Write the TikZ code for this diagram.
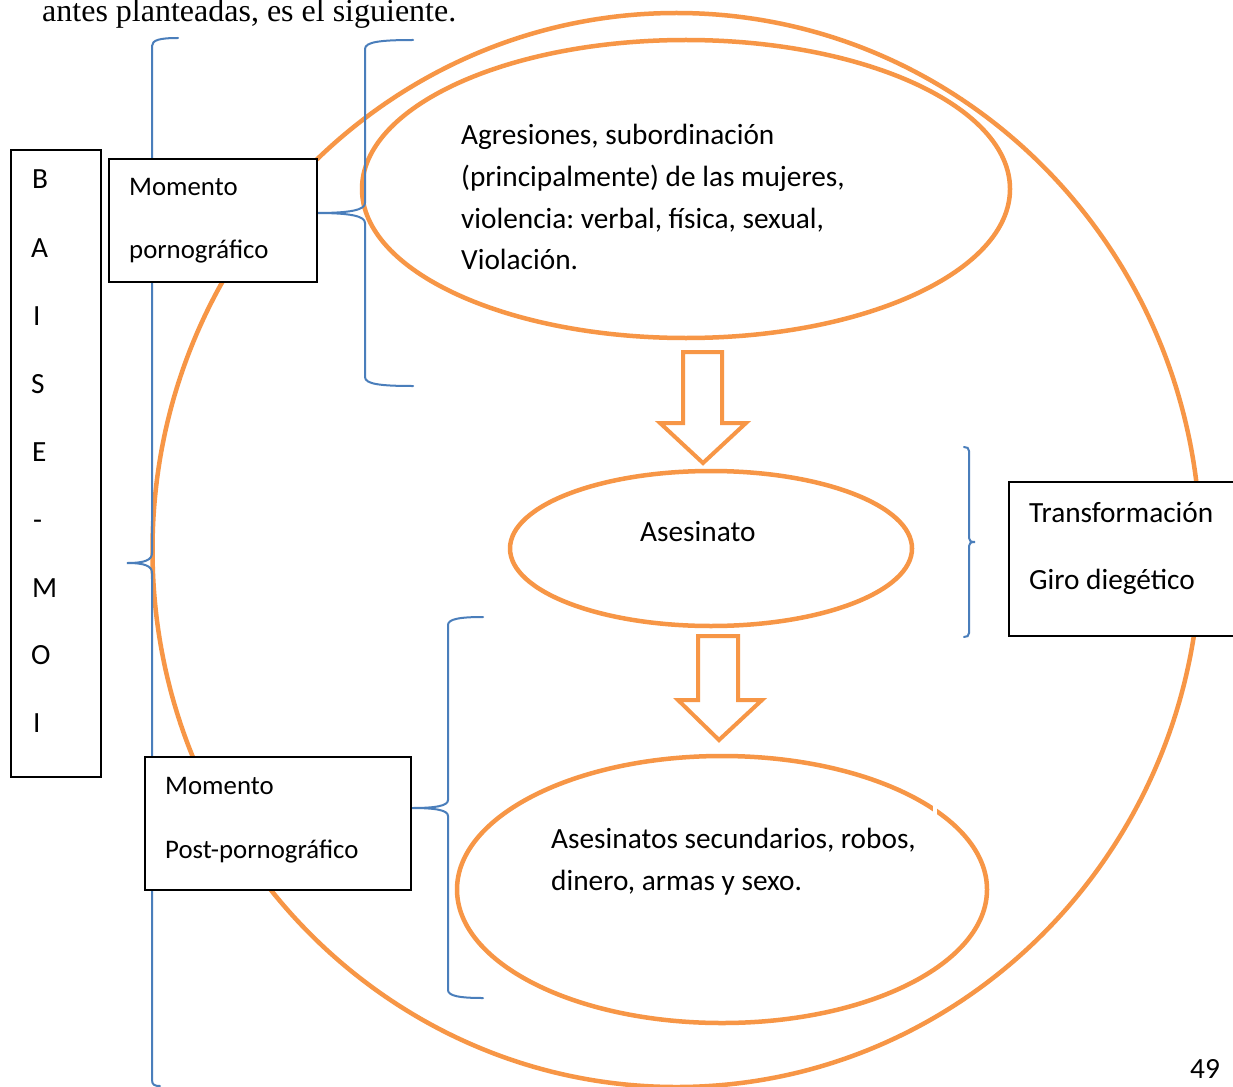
\documentclass[tikz,border=0pt]{standalone}
\usepackage{fontspec}
\newfontfamily\calibfam{Carlito}
\newfontfamily\timesfam{Liberation Serif}
\usetikzlibrary{shapes.geometric}
\definecolor{orng}{HTML}{F79646}
\definecolor{blu}{HTML}{4A7EBB}
\newcommand\mylblfont{\calibfam\fontsize{29.3}{35}\selectfont\frenchspacing}
\newcommand\mysmallfont{\calibfam\fontsize{26.8}{32}\selectfont\frenchspacing}
\tikzset{
  oval/.style={draw=orng, line width=4.5, ellipse, inner sep=0, fill=none},
  frame/.style={draw=black, fill=white, line width=1.3, inner sep=0},
  lbl/.style={font=\mylblfont, anchor=base west, inner sep=0},
  slbl/.style={font=\mysmallfont, anchor=base west, inner sep=0},
  bracepath/.style={draw=blu, line width=2, line cap=round},
  blockarrow/.style={draw=orng, line width=4, fill=white, line join=miter},
}
\begin{document}
\begin{tikzpicture}[x=1pt,y=-1pt]
\useasboundingbox (0,0) rectangle (1233,1086);
\clip (0,0) rectangle (1233,1086);
\fill[white] (0,0) rectangle (1233,1086);

% intro text
\node[anchor=base west, inner sep=0, font=\timesfam\fontsize{32}{38}\selectfont\frenchspacing] (intro) at (42,22) {antes planteadas, es el siguiente.};

% orange shapes
\node[oval, minimum width=1048, minimum height=1074] (big) at (676.5,550) {};
\node[oval, minimum width=648, minimum height=298] (top) at (686,189) {};
\node[oval, minimum width=402, minimum height=155] (mid) at (711,548.5) {};
\node[oval, minimum width=530, minimum height=267] (bot) at (722,889.5) {};
\fill[white] (933,802) rectangle (937,816);

% block arrows
\draw[blockarrow] (683,352) -- (722,352) -- (722,423) -- (746,423) -- (703,463) -- (660,423) -- (683,423) -- cycle;
\draw[blockarrow] (698,636) -- (738,636) -- (738,700) -- (762,700) -- (719,740) -- (678,700) -- (698,700) -- cycle;

% braces
\draw[bracepath] (178,38) .. controls (160,38) and (152,40) .. (152,46) -- (152,553)
  .. controls (152,560) and (145,563) .. (127,563)
  .. controls (145,563) and (152,566) .. (152,573) -- (152,1080)
  .. controls (152,1085) and (155,1086) .. (160,1086);
\draw[bracepath] (413,40) .. controls (380,40) and (365,42) .. (365,49) -- (365,203)
  .. controls (365,210) and (350,213) .. (317,213)
  .. controls (350,213) and (365,216) .. (365,223) -- (365,377)
  .. controls (365,384) and (380,386) .. (413,386);
\draw[bracepath] (483,617) .. controls (460,617) and (448,619) .. (448,625) -- (448,800)
  .. controls (448,806) and (435,808) .. (412,808)
  .. controls (435,808) and (448,810) .. (448,816) -- (448,990)
  .. controls (448,996) and (460,998) .. (483,998);
\draw[bracepath] (964,447) .. controls (967,447) and (969,448) .. (969,451) -- (969,538)
  .. controls (969,541) and (971,542) .. (975,542)
  .. controls (971,542) and (969,543) .. (969,546) -- (969,633)
  .. controls (969,636) and (967,637) .. (964,637);

% boxes
\node[frame, minimum width=90, minimum height=627] (baise) at (56,463.5) {};
\node[frame, minimum width=208, minimum height=123] (porno) at (213,220.5) {};
\node[frame, minimum width=266, minimum height=133] (post) at (278,823.5) {};
\node[frame, minimum width=236, minimum height=154] (transf) at (1127,559) {};

% texts
\node[lbl] (t1) at (461,145) {Agresiones, subordinación};
\node[lbl] (t2) at (461,186) {(principalmente) de las mujeres,};
\node[lbl] (t3) at (461,228) {violencia: verbal, física, sexual,};
\node[lbl] (t4) at (461,269) {Violación.};
\node[lbl] (t5) at (640,541) {Asesinato};
\node[lbl] (t6) at (551,848) {Asesinatos secundarios, robos,};
\node[lbl] (t7) at (551,890) {dinero, armas y sexo.};
\node[lbl] (t8) at (1029,522) {Transformación};
\node[lbl] (t9) at (1029,589) {Giro diegético};
\node[slbl] (t10) at (129,195) {Momento};
\node[slbl] (t11) at (129,258) {pornográfico};
\node[slbl] (t12) at (165,794) {Momento};
\node[slbl] (t13) at (165,858) {Post-pornográfico};
\node[lbl] (b1) at (32,189) {B};
\node[lbl] (b2) at (31,257) {A};
\node[lbl] (b3) at (33,325) {I};
\node[lbl] (b4) at (31,393) {S};
\node[lbl] (b5) at (32,461) {E};
\node[lbl] (b6) at (33,529) {-};
\node[lbl] (b7) at (32,597) {M};
\node[lbl] (b8) at (31,664) {O};
\node[lbl] (b9) at (33,732) {I};
\node[lbl] (pg) at (1190,1078) {49};
\end{tikzpicture}
\end{document}
